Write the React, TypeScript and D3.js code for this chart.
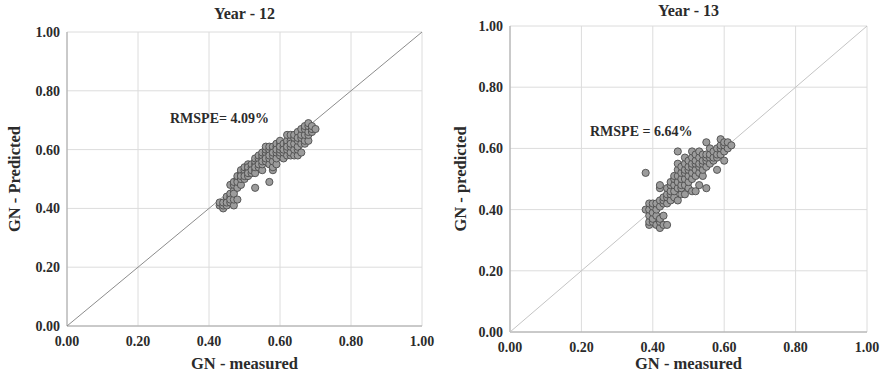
import * as d3 from "d3";

// Year 12: [measured, predicted]
const year12Points: [number, number][] = [
  [0.43, 0.41], [0.43, 0.42],
  [0.44, 0.40], [0.44, 0.41], [0.44, 0.42],
  [0.45, 0.41], [0.45, 0.43], [0.45, 0.44], [0.45, 0.42],
  [0.46, 0.42], [0.46, 0.44], [0.46, 0.45], [0.46, 0.48], [0.46, 0.43],
  [0.47, 0.41], [0.47, 0.43], [0.47, 0.46], [0.47, 0.48], [0.47, 0.49], [0.47, 0.45],
  [0.48, 0.43], [0.48, 0.47], [0.48, 0.50], [0.48, 0.49], [0.48, 0.51],
  [0.49, 0.48], [0.49, 0.50], [0.49, 0.52], [0.49, 0.53], [0.49, 0.51],
  [0.50, 0.50], [0.50, 0.52], [0.50, 0.53], [0.50, 0.54], [0.50, 0.51],
  [0.51, 0.51], [0.51, 0.53], [0.51, 0.55], [0.51, 0.54], [0.51, 0.52],
  [0.52, 0.52], [0.52, 0.54], [0.52, 0.55], [0.52, 0.53],
  [0.53, 0.47], [0.53, 0.53], [0.53, 0.55], [0.53, 0.56], [0.53, 0.57], [0.53, 0.52], [0.53, 0.54],
  [0.54, 0.54], [0.54, 0.56], [0.54, 0.57], [0.54, 0.58], [0.54, 0.55],
  [0.55, 0.53], [0.55, 0.55], [0.55, 0.57], [0.55, 0.58], [0.55, 0.59], [0.55, 0.56],
  [0.56, 0.56], [0.56, 0.58], [0.56, 0.59], [0.56, 0.60], [0.56, 0.61], [0.56, 0.57],
  [0.57, 0.49], [0.57, 0.55], [0.57, 0.57], [0.57, 0.59], [0.57, 0.60], [0.57, 0.61], [0.57, 0.58],
  [0.58, 0.53], [0.58, 0.54], [0.58, 0.56], [0.58, 0.58], [0.58, 0.60], [0.58, 0.61], [0.58, 0.59],
  [0.59, 0.55], [0.59, 0.57], [0.59, 0.59], [0.59, 0.61], [0.59, 0.62], [0.59, 0.60],
  [0.60, 0.58], [0.60, 0.59], [0.60, 0.60], [0.60, 0.62], [0.60, 0.63], [0.60, 0.61],
  [0.61, 0.57], [0.61, 0.59], [0.61, 0.61], [0.61, 0.62], [0.61, 0.60],
  [0.62, 0.58], [0.62, 0.60], [0.62, 0.62], [0.62, 0.63], [0.62, 0.65], [0.62, 0.61],
  [0.63, 0.58], [0.63, 0.59], [0.63, 0.61], [0.63, 0.63], [0.63, 0.65], [0.63, 0.62],
  [0.64, 0.58], [0.64, 0.60], [0.64, 0.62], [0.64, 0.64], [0.64, 0.65],
  [0.65, 0.58], [0.65, 0.60], [0.65, 0.61], [0.65, 0.63], [0.65, 0.66], [0.65, 0.64],
  [0.66, 0.59], [0.66, 0.62], [0.66, 0.64], [0.66, 0.65], [0.66, 0.67],
  [0.67, 0.62], [0.67, 0.63], [0.67, 0.65], [0.67, 0.67], [0.67, 0.68],
  [0.68, 0.63], [0.68, 0.65], [0.68, 0.66], [0.68, 0.68], [0.68, 0.69],
  [0.69, 0.66], [0.69, 0.67], [0.69, 0.68],
  [0.70, 0.67],
];

// Year 13: [measured, predicted]
const year13Points: [number, number][] = [
  [0.38, 0.40], [0.38, 0.52],
  [0.39, 0.35], [0.39, 0.36], [0.39, 0.38], [0.39, 0.40], [0.39, 0.42],
  [0.40, 0.36], [0.40, 0.37], [0.40, 0.39], [0.40, 0.41], [0.40, 0.42],
  [0.41, 0.35], [0.41, 0.38], [0.41, 0.40], [0.41, 0.42],
  [0.42, 0.34], [0.42, 0.36], [0.42, 0.37], [0.42, 0.41], [0.42, 0.43], [0.42, 0.47], [0.42, 0.48],
  [0.43, 0.35], [0.43, 0.38], [0.43, 0.42], [0.43, 0.43], [0.43, 0.44],
  [0.44, 0.35], [0.44, 0.42], [0.44, 0.44], [0.44, 0.45], [0.44, 0.47],
  [0.45, 0.43], [0.45, 0.45], [0.45, 0.46], [0.45, 0.48], [0.45, 0.49],
  [0.46, 0.44], [0.46, 0.46], [0.46, 0.48], [0.46, 0.50], [0.46, 0.51],
  [0.47, 0.43], [0.47, 0.47], [0.47, 0.49], [0.47, 0.51], [0.47, 0.53], [0.47, 0.55], [0.47, 0.59],
  [0.48, 0.45], [0.48, 0.47], [0.48, 0.48], [0.48, 0.50], [0.48, 0.52], [0.48, 0.54],
  [0.49, 0.45], [0.49, 0.48], [0.49, 0.50], [0.49, 0.52], [0.49, 0.53], [0.49, 0.55], [0.49, 0.57],
  [0.50, 0.47], [0.50, 0.49], [0.50, 0.51], [0.50, 0.53], [0.50, 0.54], [0.50, 0.56],
  [0.51, 0.46], [0.51, 0.50], [0.51, 0.52], [0.51, 0.54], [0.51, 0.55], [0.51, 0.57], [0.51, 0.59],
  [0.52, 0.46], [0.52, 0.51], [0.52, 0.53], [0.52, 0.55], [0.52, 0.56], [0.52, 0.58],
  [0.53, 0.48], [0.53, 0.52], [0.53, 0.54], [0.53, 0.55], [0.53, 0.57], [0.53, 0.59],
  [0.54, 0.51], [0.54, 0.53], [0.54, 0.55], [0.54, 0.56], [0.54, 0.58],
  [0.55, 0.47], [0.55, 0.54], [0.55, 0.56], [0.55, 0.57], [0.55, 0.58], [0.55, 0.62],
  [0.56, 0.55], [0.56, 0.57], [0.56, 0.58], [0.56, 0.60],
  [0.57, 0.56], [0.57, 0.57], [0.57, 0.59],
  [0.58, 0.53], [0.58, 0.57], [0.58, 0.58], [0.58, 0.60],
  [0.59, 0.58], [0.59, 0.60], [0.59, 0.61], [0.59, 0.63],
  [0.60, 0.56], [0.60, 0.59], [0.60, 0.61], [0.60, 0.62],
  [0.61, 0.60], [0.61, 0.62],
  [0.62, 0.61],
];

const ticks = [0, 0.2, 0.4, 0.6, 0.8, 1.0];

const font = "'Liberation Serif', 'Times New Roman', serif";

interface PanelProps {
  points: [number, number][];
  title: string;
  yLabel: string;
  note: string;
  left: number;
  right: number;
  top: number;
  bottom: number;
  noteX: number;
  noteY: number;
  titleY: number;
  yLabelX: number;
  diagColor: string;
}

function Panel({ points, title, yLabel, note, left, right, top, bottom, noteX, noteY, titleY, yLabelX, diagColor }: PanelProps) {
  const x = d3.scaleLinear().domain([0, 1]).range([left, right]);
  const y = d3.scaleLinear().domain([0, 1]).range([bottom, top]);
  const cx = (left + right) / 2;
  const cy = (top + bottom) / 2;

  return (
    <g fontFamily={font} fontWeight="bold" fill="#2b2b2b">
      {ticks.map((t) => (
        <g key={t}>
          <line x1={x(t)} x2={x(t)} y1={y(0)} y2={y(1)} stroke="#dcdcdc" />
          <line x1={x(0)} x2={x(1)} y1={y(t)} y2={y(t)} stroke="#dcdcdc" />
          <text x={x(0) - 7} y={y(t)} dy="0.35em" textAnchor="end" fontSize={14}>
            {t.toFixed(2)}
          </text>
          <text x={x(t)} y={bottom + 20} textAnchor="middle" fontSize={14}>
            {t.toFixed(2)}
          </text>
        </g>
      ))}
      <line x1={x(0)} x2={x(0)} y1={y(0)} y2={y(1)} stroke="#a6a6a6" />
      <line x1={x(0)} x2={x(1)} y1={y(0)} y2={y(0)} stroke="#a6a6a6" />
      <line x1={x(0)} y1={y(0)} x2={x(1)} y2={y(1)} stroke={diagColor} strokeWidth={1} />
      {points.map(([m, p], i) => (
        <circle key={i} cx={x(m)} cy={y(p)} r={3.6} fill="#9c9c9c" stroke="#4d4d4d" strokeWidth={0.9} />
      ))}
      <text x={noteX} y={noteY} fontSize={14}>
        {note}
      </text>
      <text x={cx} y={titleY} textAnchor="middle" fontSize={16}>
        {title}
      </text>
      <text x={cx} y={369} textAnchor="middle" fontSize={16.5}>
        GN - measured
      </text>
      <text
        transform={`translate(${yLabelX},${cy}) rotate(-90)`}
        textAnchor="middle"
        dy="0.35em"
        fontSize={16.5}
      >
        {yLabel}
      </text>
    </g>
  );
}

export default function App() {
  return (
    <svg
      width={883}
      height={375}
      style={{ position: "absolute", left: 0, top: 0, background: "#fff" }}
    >
      <Panel
        points={year12Points}
        title="Year - 12"
        yLabel="GN - Predicted"
        note="RMSPE= 4.09%"
        left={67}
        right={422}
        top={32}
        bottom={326}
        noteX={170}
        noteY={123}
        titleY={19}
        yLabelX={14}
        diagColor="#8c8c8c"
      />
      <Panel
        points={year13Points}
        title="Year - 13"
        yLabel="GN - predicted"
        note="RMSPE = 6.64%"
        left={510}
        right={867}
        top={26}
        bottom={332}
        noteX={590}
        noteY={136}
        titleY={16}
        yLabelX={460}
        diagColor="#c4c4c4"
      />
    </svg>
  );
}
